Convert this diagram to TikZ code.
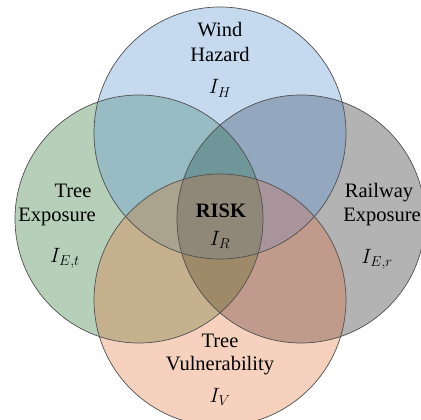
\documentclass[tikz,border=0pt]{standalone}
\usepackage{fontspec}
\setmainfont{Liberation Serif}
\definecolor{cblue}{RGB}{198,218,239}
\definecolor{cgreen}{RGB}{182,207,185}
\definecolor{cgray}{RGB}{179,179,179}
\definecolor{corange}{RGB}{246,210,190}
\definecolor{cBG}{RGB}{152,188,196}
\definecolor{cBR}{RGB}{147,167,190}
\definecolor{cGO}{RGB}{198,177,143}
\definecolor{cRO}{RGB}{192,154,138}
\definecolor{cBGR}{RGB}{111,150,152}
\definecolor{cBGO}{RGB}{172,163,143}
\definecolor{cBRO}{RGB}{168,148,154}
\definecolor{cGRO}{RGB}{158,138,105}
\definecolor{cALL}{RGB}{143,136,120}
\definecolor{cline}{RGB}{80,80,80}
\begin{document}
\begin{tikzpicture}[x=1pt,y=-1pt,
  lbl/.style={inner sep=0pt,anchor=base,font=\fontsize{20.5}{24}\selectfont},
  ring/.style={draw=cline,line width=0.7pt}]
\useasboundingbox (0,0) rectangle (421,420);
\clip (0,0) rectangle (421,420);
\def\cB{(220,133) circle[radius=126pt]}
\def\cG{(139,219) circle[radius=124pt]}
\def\cR{(301,219) circle[radius=124pt]}
\def\cO{(220,300) circle[radius=126pt]}
% singles
\fill[cblue] \cB;
\fill[cgreen] \cG;
\fill[cgray] \cR;
\fill[corange] \cO;
% pairs
\begin{scope}\clip \cB; \fill[cBG] \cG; \end{scope}
\begin{scope}\clip \cB; \fill[cBR] \cR; \end{scope}
\begin{scope}\clip \cG; \fill[cGO] \cO; \end{scope}
\begin{scope}\clip \cR; \fill[cRO] \cO; \end{scope}
% triples
\begin{scope}\clip \cB; \clip \cG; \fill[cBGR] \cR; \end{scope}
\begin{scope}\clip \cB; \clip \cG; \fill[cBGO] \cO; \end{scope}
\begin{scope}\clip \cB; \clip \cR; \fill[cBRO] \cO; \end{scope}
\begin{scope}\clip \cG; \clip \cR; \fill[cGRO] \cO; \end{scope}
% all four
\begin{scope}\clip \cB; \clip \cG; \clip \cR; \fill[cALL] \cO; \end{scope}
% outlines
\draw[ring] \cB;
\draw[ring] \cG;
\draw[ring] \cR;
\draw[ring] \cO;
% labels
\node[lbl] (wind) at (220,37) {Wind};
\node[lbl] (hazard) at (220,62) {Hazard};
\node[lbl] (ih) at (220,94) {$I_H$};
\node[lbl] (treel) at (73,197) {Tree};
\node[lbl] (expl) at (57,221) {Exposure};
\node[lbl] (iet) at (65,262) {$I_{E,t}$};
\node[lbl] (risk) at (221,217) {\textbf{RISK}};
\node[lbl] (ir) at (220,245) {$I_R$};
\node[lbl] (rail) at (379,197) {Railway};
\node[lbl] (expr) at (382,221) {Exposure};
\node[lbl] (ier) at (377,263) {$I_{E,r}$};
\node[lbl] (treeb) at (220,347) {Tree};
\node[lbl] (vuln) at (220,370) {Vulnerability};
\node[lbl] (iv) at (220,402) {$I_V$};
\end{tikzpicture}
\end{document}
